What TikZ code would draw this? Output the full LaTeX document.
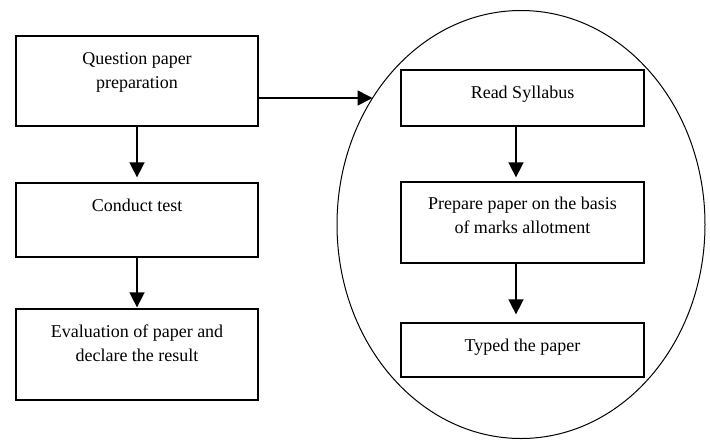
\documentclass[tikz,border=0pt]{standalone}
\usepackage{fontspec}
\setmainfont{Liberation Serif}
\usetikzlibrary{arrows.meta, positioning}

\begin{document}
\begin{tikzpicture}[x=1pt, y=-1pt,
  box/.style={draw, line width=1.3pt, minimum width=242pt, inner sep=0pt},
  lbl/.style={inner sep=0pt, align=center, font=\fontsize{18}{24}\selectfont},
  arr/.style={-{Triangle[length=15pt, width=15pt]}, line width=1.6pt}]
\useasboundingbox (0,0) rectangle (710,440);
\draw [line width=1pt] (521,224.5) ellipse [x radius=184, y radius=214];
% left column
\node [box, minimum height=90pt] (qpp) at (137,81) {};
\node [box, minimum height=74pt] (ct) at (137,220) {};
\node [box, minimum height=91pt] (eval) at (137,354.5) {};
\node [lbl, below=16.7pt of qpp.north] (qppt) {Question paper\\preparation};
\node [lbl, below=16.7pt of ct.north] (ctt) {Conduct test};
\node [lbl, below=16.7pt of eval.north] (evalt) {Evaluation of paper and\\declare the result};
% right column, inside the ellipse
\node [box, minimum width=243pt, minimum height=56pt] (rs) at (522.5,98) {};
\node [box, minimum width=243pt, minimum height=81pt] (prep) at (522.5,222.5) {};
\node [box, minimum width=243pt, minimum height=54pt] (typed) at (522.5,350) {};
\node [lbl, below=16pt of rs.north] (rst) {Read Syllabus};
\node [lbl, below=15pt of prep.north] (prept) {Prepare paper on the basis\\of marks allotment};
\node [lbl, below=16.7pt of typed.north] (typedt) {Typed the paper};
% arrows
\draw [arr, shorten >=5pt] (qpp) -- (ct);
\draw [arr, shorten >=1pt] (ct) -- (eval);
\draw [arr, shorten >=4pt] ([xshift=-6.5pt]rs.south) -- ([xshift=-6.5pt]prep.north);
\draw [arr, shorten >=8pt] ([xshift=-6.5pt]prep.south) -- ([xshift=-6.5pt]typed.north);
\coordinate (entry) at (372.5,98);
\draw [arr] (qpp.east |- entry) -- (entry);
\end{tikzpicture}
\end{document}
